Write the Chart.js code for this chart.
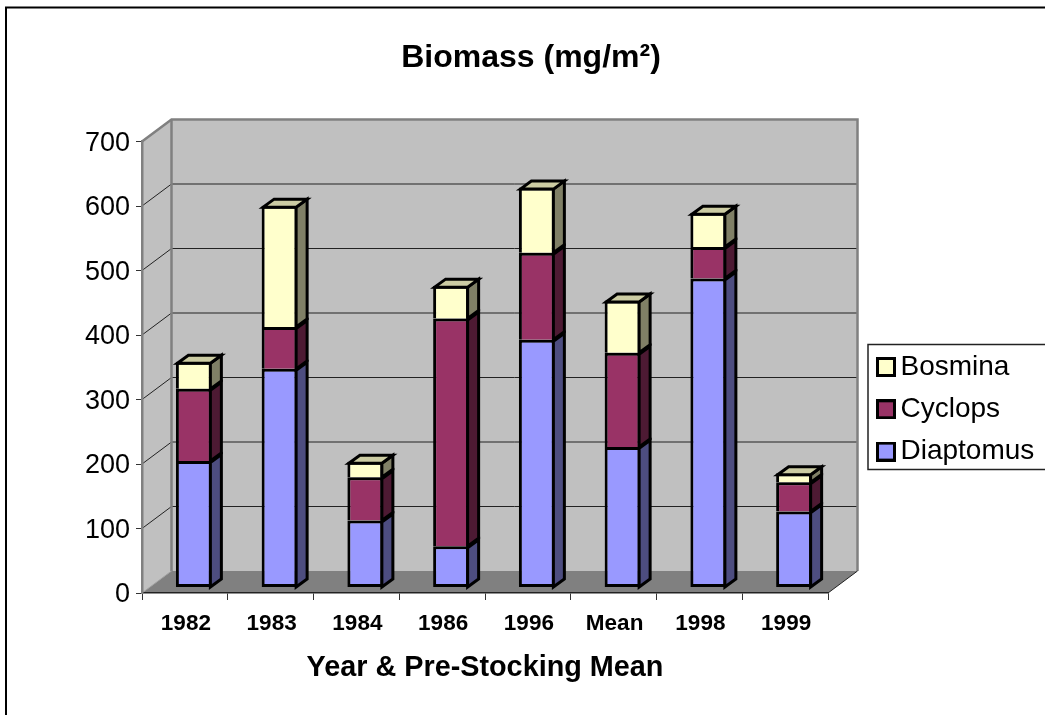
<!DOCTYPE html>
<html>
<head>
<meta charset="utf-8">
<style>html,body{margin:0;padding:0;background:#fff}canvas{display:block}</style>
<script src="https://cdn.jsdelivr.net/npm/chart.js@4"></script>
</head>
<body>
<canvas id="c" width="1045" height="715"></canvas>
<script>
const categories = ['1982','1983','1984','1986','1996','Mean','1998','1999'];
const diaptomus = [196,339,104,64,384,218,479,118];
const cyclops   = [112,65,67,353,135,146,49,45];
const bosmina   = [42,188,24,51,101,81,53,14];
const yTicks = [0,100,200,300,400,500,600,700];
const sideColors = ['#4D4D80','#4D1A33','#808066'];
const topColor = '#CCCCA3';
const FONT = "'Liberation Sans', Arial, sans-serif";
const WALL_DX = 29.5, WALL_DY = -22;
const BAR_DX = 9, BAR_DY = -5.5, DEPTH_DX = 11, DEPTH_DY = -8;

function swatch(color){
  const s = document.createElement('canvas');
  s.width = 20; s.height = 20;
  const g = s.getContext('2d');
  g.fillStyle = '#000'; g.fillRect(0,0,20,20);
  g.fillStyle = color; g.fillRect(3,3,14,14);
  return s;
}

const scene = {
  id:'scene',
  beforeDraw(chart){
    const {ctx, scales:{x,y}} = chart;
    const l=x.left, r=x.right, b=y.getPixelForValue(0), t=y.getPixelForValue(700);
    ctx.save();
    ctx.fillStyle='#fff'; ctx.fillRect(0,0,chart.width,chart.height);
    ctx.strokeStyle='#000'; ctx.lineWidth=2;
    ctx.beginPath(); ctx.moveTo(6,715); ctx.lineTo(6,7.5); ctx.lineTo(1045,7.5); ctx.stroke();
    // legend frame
    ctx.lineWidth=1.5; ctx.strokeStyle='#222';
    ctx.strokeRect(868,344.5,190,125);
    // walls
    const poly=(pts,fill,stroke,w)=>{ctx.beginPath();pts.forEach((p,i)=>i?ctx.lineTo(p[0],p[1]):ctx.moveTo(p[0],p[1]));ctx.closePath();
      if(fill){ctx.fillStyle=fill;ctx.fill();} if(stroke){ctx.strokeStyle=stroke;ctx.lineWidth=w;ctx.stroke();}};
    const bl=l+WALL_DX, br=r+WALL_DX, bb=b+WALL_DY, bt=t+WALL_DY;
    poly([[l,b],[bl,bb],[bl,bt],[l,t]],'#C0C0C0');
    poly([[bl,bb],[br,bb],[br,bt],[bl,bt]],'#C0C0C0');
    poly([[l,b],[r,b],[br,bb],[bl,bb]],'#808080');
    // grid
    yTicks.slice(1,-1).forEach(v=>{
      const p=y.getPixelForValue(v);
      ctx.strokeStyle='#222'; ctx.lineWidth=1;
      ctx.beginPath(); ctx.moveTo(l,p); ctx.lineTo(bl,p+WALL_DY); ctx.lineTo(br,p+WALL_DY); ctx.stroke();
    });
    // wall edges
    ctx.strokeStyle='#808080'; ctx.lineWidth=2.5;
    ctx.beginPath(); ctx.moveTo(l,t); ctx.lineTo(bl,bt); ctx.lineTo(br,bt); ctx.lineTo(br,bb); ctx.stroke();
    ctx.beginPath(); ctx.moveTo(bl,bt); ctx.lineTo(bl,bb); ctx.stroke();
    ctx.lineWidth=1;ctx.strokeStyle='#A0A0A0';
    ctx.beginPath(); ctx.moveTo(l,b); ctx.lineTo(bl,bb); ctx.stroke();
    ctx.strokeStyle='#222';
    ctx.beginPath(); ctx.moveTo(r,b); ctx.lineTo(br,bb); ctx.stroke();
    ctx.restore();
  },
  beforeDatasetsDraw(chart){
    chart.ctx.save();
    chart.ctx.translate(BAR_DX,BAR_DY);
  },
  afterDatasetsDraw(chart){
    const ctx=chart.ctx;
    ctx.strokeStyle='#000'; ctx.lineWidth=3; ctx.lineJoin='miter';
    const n=chart.data.datasets.length;
    chart.data.datasets.forEach((ds,i)=>{
      chart.getDatasetMeta(i).data.forEach(bar=>{
        const R=bar.x+bar.width/2-1.5, L=bar.x-bar.width/2+1.5, T=bar.y+1.5, B=bar.base;
        ctx.fillStyle=sideColors[i];
        ctx.beginPath(); ctx.moveTo(R,T); ctx.lineTo(R+DEPTH_DX,T+DEPTH_DY); ctx.lineTo(R+DEPTH_DX,B+DEPTH_DY); ctx.lineTo(R,B); ctx.closePath();
        ctx.fill(); ctx.stroke();
        if(i===n-1){
          ctx.fillStyle=topColor;
          ctx.beginPath(); ctx.moveTo(L,T); ctx.lineTo(L+DEPTH_DX,T+DEPTH_DY); ctx.lineTo(R+DEPTH_DX,T+DEPTH_DY); ctx.lineTo(R,T); ctx.closePath();
          ctx.fill(); ctx.stroke();
        }
      });
    });
    ctx.restore();
  },
  afterLayout(chart){
    const lg=chart.legend;
    lg.left=871.2; lg.top=338.7; lg.right=1045; lg.bottom=715;
    const t=chart.titleBlock;
    t.left+=117; t.right+=117;
  }
};

new Chart(document.getElementById('c'),{
  type:'bar',
  plugins:[scene],
  data:{
    labels:categories,
    datasets:[
      {label:'Diaptomus',data:diaptomus,backgroundColor:'#9999FF',borderWidth:{top:3,left:3,right:3,bottom:3}},
      {label:'Cyclops',data:cyclops,backgroundColor:'#993366',borderWidth:{top:3,left:3,right:3,bottom:0}},
      {label:'Bosmina',data:bosmina,backgroundColor:'#FFFFCC',borderWidth:{top:3,left:3,right:3,bottom:0}}
    ].map(d=>Object.assign(d,{borderColor:'#000',borderSkipped:false,inflateAmount:0,barThickness:36}))
  },
  options:{
    responsive:false,animation:false,devicePixelRatio:1,
    layout:{padding:{left:0,right:217,top:0,bottom:0}},
    plugins:{
      tooltip:{enabled:false},
      title:{display:true,text:'Biomass (mg/m²)',color:'#000',font:{family:FONT,size:32,weight:'bold'},padding:{top:39,bottom:64.1}},
      legend:{position:'chartArea',align:'start',reverse:true,
        labels:{color:'#000',font:{family:FONT,size:28},padding:14.3,usePointStyle:true,pointStyleWidth:1,boxHeight:28,
          generateLabels(chart){
            const items=Chart.defaults.plugins.legend.labels.generateLabels(chart);
            items.forEach(it=>{it.pointStyle=swatch(chart.data.datasets[it.datasetIndex].backgroundColor);});
            return items;
          }}}
    },
    scales:{
      x:{stacked:true,
        afterFit(s){s.height=122;},
        grid:{drawOnChartArea:false,tickLength:7,color:'#333',offset:true},
        border:{color:'#222',width:1.5},
        ticks:{color:'#000',font:{family:FONT,size:22.5,weight:'bold'},padding:10,labelOffset:1,maxRotation:0,autoSkip:false},
        title:{display:true,text:'Year & Pre-Stocking Mean',color:'#000',font:{family:FONT,size:28.8,weight:'bold'},padding:{top:0,bottom:30}}
      },
      y:{stacked:true,min:0,max:700,
        afterFit(s){s.width=142;},
        afterBuildTicks(s){s.ticks=yTicks.map(v=>({value:v}));},
        grid:{drawOnChartArea:false,tickLength:6,color:'#333'},
        border:{color:'#808080',width:2.5},
        ticks:{color:'#000',font:{family:FONT,size:27},padding:6,labelOffset:2}
      }
    }
  }
});
</script>
</body>
</html>
